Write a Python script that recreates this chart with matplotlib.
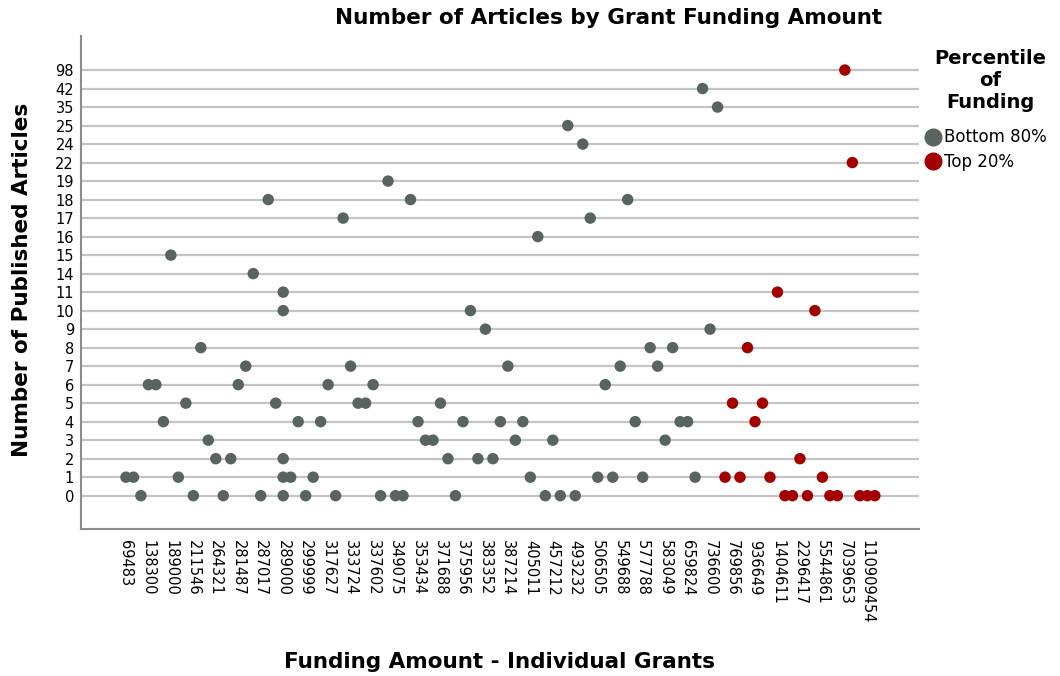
import matplotlib
matplotlib.use("Agg")
import matplotlib.pyplot as plt
from matplotlib.lines import Line2D

###### Data #####
# y axis is categorical: only the article counts that occur
article_levels = [0, 1, 2, 3, 4, 5, 6, 7, 8, 9, 10, 11, 14, 15, 16, 17, 18, 19, 22, 24, 25, 35, 42, 98]

# x axis is categorical too: grants sorted by amount, 101 distinct amounts,
# only every third one labelled
funding_labels = ["69483", "138300", "189000", "211546", "264321", "281487", "287017",
                  "289000", "299999", "317627", "333724", "337602", "349075", "353434",
                  "371688", "375956", "383352", "387214", "405011", "457212", "493232",
                  "506505", "549688", "577788", "583049", "659824", "736600", "769856",
                  "936649", "1404611", "2296417", "5544861", "7039653", "110909454"]
n_amounts = 101

# bottom 80% of funding (position of amount, number of articles)
bottom_pos = [0, 1, 2, 3, 4, 5, 6, 7, 8, 9, 10, 11, 12, 13, 14, 15, 16, 17, 18, 19, 20,
              21, 21, 21, 21, 21, 22, 23, 24, 25, 26, 27, 28, 29, 30, 31, 32, 33, 34, 35,
              36, 37, 38, 39, 40, 41, 42, 43, 44, 45, 46, 47, 48, 49, 50, 51, 52, 53, 54,
              55, 56, 57, 58, 59, 60, 61, 62, 63, 64, 65, 66, 67, 68, 69, 70, 71, 72, 73,
              74, 75, 76, 77, 78, 79]
bottom_articles = [1, 1, 0, 6, 6, 4, 15, 1, 5, 0, 8, 3, 2, 0, 2, 6, 7, 14, 0, 18, 5,
                   0, 1, 2, 10, 11, 1, 4, 0, 1, 4, 6, 0, 17, 7, 5, 5, 6, 0, 19,
                   0, 0, 18, 4, 3, 3, 5, 2, 0, 4, 10, 2, 9, 2, 4, 7, 3, 4, 1,
                   16, 0, 3, 0, 25, 0, 24, 17, 1, 6, 1, 7, 18, 4, 1, 8, 7, 3, 8,
                   4, 4, 1, 42, 9, 35]

# top 20% of funding
top_pos = [80, 81, 82, 83, 84, 85, 86, 87, 88, 89, 90, 91, 92, 93, 94, 95, 96, 97, 98, 99, 100]
top_articles = [1, 5, 1, 8, 4, 5, 1, 11, 0, 0, 2, 0, 10, 1, 0, 0, 98, 22, 0, 0, 0]

GRAY = "#5a645e"
RED = "#a30000"

def to_level(values):
    return [article_levels.index(v) for v in values]

plt.rcParams['font.family'] = ['DejaVu Sans']

fig = plt.figure(figsize=(10.6, 6.76), dpi=100)
ax = fig.add_axes([81/1060, 1 - 529/676, (919-81)/1060, (529-36)/676])

for i in range(len(article_levels)):
    ax.axhline(i, color="#c4c4c4", lw=1.6, zorder=1)

ax.scatter(bottom_pos, to_level(bottom_articles), s=68, color=GRAY, edgecolors='none', zorder=3)
ax.scatter(top_pos, to_level(top_articles), s=68, color=RED, edgecolors='none', zorder=3)

ax.set_xlim(-6, 105.9)
ax.set_ylim(-1.8, len(article_levels) - 1 + 1.84)

ax.set_yticks(range(len(article_levels)))
ax.set_yticklabels([str(v) for v in article_levels], fontsize=10.5)
ax.set_xticks(range(0, n_amounts, 3))
ax.set_xticklabels(funding_labels, rotation=-90, fontsize=10.5, va='top', ha='center')
ax.tick_params(axis='x', length=0, pad=8)
ax.tick_params(axis='y', length=0, pad=5)

for s in ['top', 'right']:
    ax.spines[s].set_visible(False)
for s in ['left', 'bottom']:
    ax.spines[s].set_color("#8c8c8c")
    ax.spines[s].set_linewidth(1.5)

fig.text(609/1060, 1 - 18/676, "Number of Articles by Grant Funding Amount",
         ha='center', va='center', fontsize=15.5, fontweight='bold')
fig.text(22/1060, 1 - 280/676, "Number of Published Articles", rotation=90,
         ha='center', va='center', fontsize=15.5, fontweight='bold')
fig.text(500/1060, 1 - 662/676, "Funding Amount - Individual Grants",
         ha='center', va='center', fontsize=15.5, fontweight='bold')

# legend title as its own text, entries below it
fig.text(990/1060, 1 - 81/676, "Percentile\nof\nFunding", ha='center', va='center',
         fontsize=14, fontweight='bold', linespacing=1.2, multialignment='center')
handles = [Line2D([], [], marker='o', ls='none', color=GRAY, markersize=12),
           Line2D([], [], marker='o', ls='none', color=RED, markersize=12)]
fig.legend(handles, ["Bottom 80%", "Top 20%"], loc='upper left',
           bbox_to_anchor=(915/1060, 1 - 120/676), frameon=False,
           fontsize=12, handletextpad=0.05, labelspacing=0.4, borderpad=0,
           handlelength=1.2)

fig.savefig("out.png", dpi=100)
